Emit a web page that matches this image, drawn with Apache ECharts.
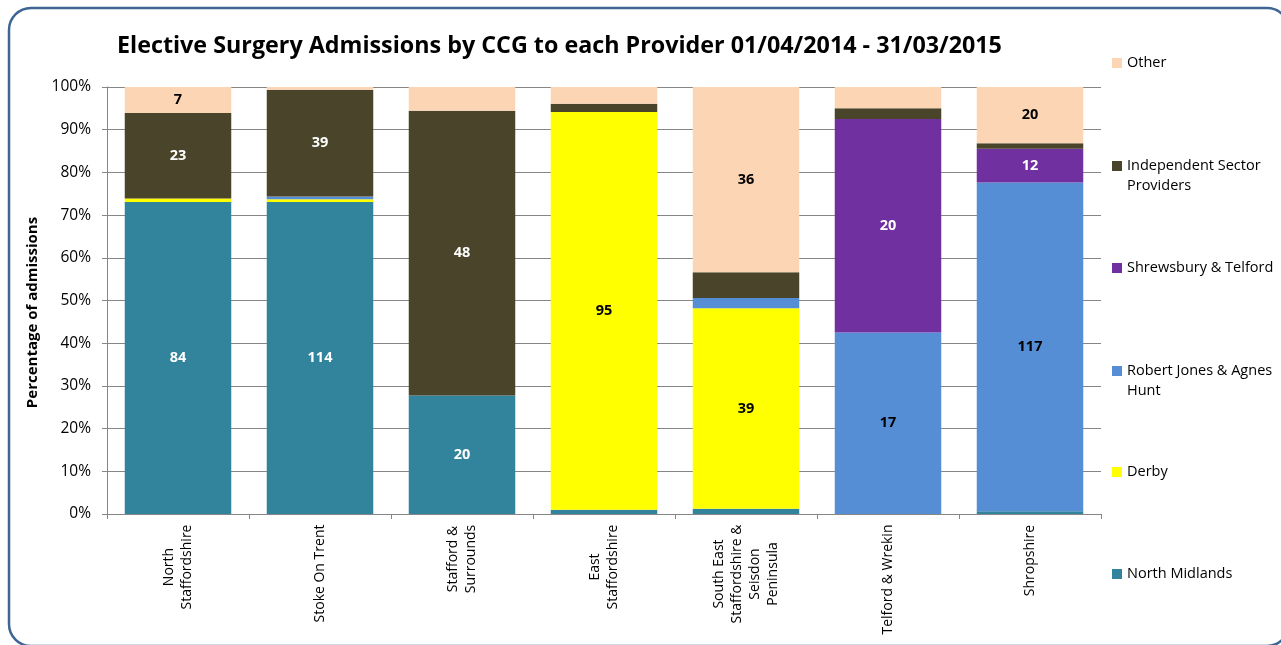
<!DOCTYPE html>
<html>
<head>
<meta charset="utf-8">
<script src="https://cdn.jsdelivr.net/npm/echarts@6/dist/echarts.min.js"></script>
<style>
  html, body { margin: 0; padding: 0; background: #fff; }
  #chart { width: 1281px; height: 645px; }
</style>
</head>
<body>
<div id="chart"></div>
<script>
// CCG categories (x axis)
var categories = ['North\nStaffordshire', 'Stoke On Trent', 'Stafford &\nSurrounds', 'East\nStaffordshire',
	'South East\nStaffordshire &\nSeisdon\nPeninsula', 'Telford & Wrekin', 'Shropshire'];

var northMidlands = [84, 114, 20, 1, 1, 0, 1];
var derby = [1, 1, 0, 95, 39, 0, 0];
var robertJones = [0, 1, 0, 0, 2, 17, 117];
var shrewsbury = [0, 0, 0, 0, 0, 20, 12];
var independent = [23, 39, 48, 2, 5, 1, 2];
var other = [7, 1, 4, 4, 36, 2, 20];

var yTicks = [0, 10, 20, 30, 40, 50, 60, 70, 80, 90, 100];

var font = '"Open Sans", "DejaVu Sans", sans-serif';

// series settings bottom -> top
var providers = [
	{ name: 'North Midlands', data: northMidlands, color: '#31849B', label: '#fff' },
	{ name: 'Derby', data: derby, color: '#FFFF00', label: '#000' },
	{ name: 'Robert Jones & Agnes Hunt', data: robertJones, color: '#558ED5', label: '#000' },
	{ name: 'Shrewsbury & Telford', data: shrewsbury, color: '#7030A0', label: '#fff' },
	{ name: 'Independent Sector Providers', data: independent, color: '#4A452A', label: '#fff' },
	{ name: 'Other', data: other, color: '#FCD5B5', label: '#000' }
];

// totals per CCG, to turn counts into shares
var totals = categories.map(function(c, i) {
	var t = 0;
	providers.forEach(function(p) { t += p.data[i]; });
	return t;
});

var series = providers.map(function(p) {
	return {
		name: p.name,
		type: 'bar',
		stack: 'all',
		barCategoryGap: '25%',
		itemStyle: { color: p.color },
		label: {
			show: true,
			position: 'inside',
			color: p.label,
			fontFamily: font,
			fontWeight: 'bold',
			fontSize: 14.5,
			formatter: function(params) {
				var n = p.data[params.dataIndex];
				return n >= 7 ? String(n) : ''; // small segments are not labelled
			}
		},
		data: p.data.map(function(v, i) { return v / totals[i] * 100; })
	};
});

// x labels: lines centred within each rotated block
var measure = document.createElement('canvas').getContext('2d');
measure.font = '14px "Open Sans"';
var rich = {};
categories.forEach(function(c, i) {
	var w = Math.max.apply(null, c.split('\n').map(function(s) { return measure.measureText(s).width; }));
	rich['c' + i] = { width: Math.ceil(w) + 1, align: 'center', fontFamily: font, fontSize: 14, lineHeight: 18, color: '#000' };
});

// legend entries, top to bottom as in the reference
// (two-line names get a blank first line so the marker sits on the first text line)
var legendItems = [
	{ name: 'Other', text: 'Other', top: 53 },
	{ name: 'Independent Sector Providers', text: '\nIndependent Sector\nProviders', top: 136 },
	{ name: 'Shrewsbury & Telford', text: 'Shrewsbury & Telford', top: 258 },
	{ name: 'Robert Jones & Agnes Hunt', text: '\nRobert Jones & Agnes\nHunt', top: 341 },
	{ name: 'Derby', text: 'Derby', top: 462 },
	{ name: 'North Midlands', text: 'North Midlands', top: 564 }
];
var legends = legendItems.map(function(it) {
	return {
		orient: 'vertical',
		left: 1112,
		top: it.top,
		padding: 0,
		itemWidth: 10,
		itemHeight: 10,
		icon: 'rect',
		selectedMode: false,
		data: [it.name],
		formatter: function() { return it.text; },
		textStyle: { fontFamily: font, fontSize: 14.5, color: '#000', lineHeight: 20 }
	};
});

var myChart = echarts.init(document.getElementById('chart'));
var option = {
	animation: false,
	backgroundColor: '#fff',
	title: {
		text: 'Elective Surgery Admissions by CCG to each Provider 01/04/2014 - 31/03/2015',
		left: 112,
		top: 30,
		textStyle: { fontFamily: font, fontWeight: 'bold', fontSize: 23.3, color: '#000' }
	},
	legend: legends,
	grid: { left: 107, right: 180, top: 87, bottom: 131 },
	xAxis: {
		type: 'category',
		data: categories,
		axisLine: { lineStyle: { color: '#868686' } },
		axisTick: { show: true, length: 5, lineStyle: { color: '#868686' } },
		axisLabel: {
			rotate: 90,
			margin: 10,
			interval: 0,
			rich: rich,
			formatter: function(v, i) {
				return v.split('\n').map(function(s) { return '{c' + i + '|' + s + '}'; }).join('\n');
			}
		}
	},
	yAxis: {
		type: 'value',
		min: yTicks[0],
		max: yTicks[yTicks.length - 1],
		interval: 10,
		name: 'Percentage of admissions',
		nameLocation: 'middle',
		nameRotate: 90,
		nameGap: 63,
		nameTextStyle: { fontFamily: font, fontWeight: 'bold', fontSize: 15, color: '#000', padding: [0, 24, 0, 0] },
		axisLine: { show: true, lineStyle: { color: '#868686' } },
		axisTick: { show: true, length: 5, lineStyle: { color: '#868686' } },
		splitLine: { lineStyle: { color: '#868686' } },
		axisLabel: { margin: 16, fontFamily: font, fontSize: 15.5, color: '#000', formatter: '{value}%' }
	},
	graphic: [{
		type: 'rect',
		shape: { x: 9, y: 8, width: 1280, height: 638, r: 22 },
		style: { fill: 'none', stroke: '#3E6594', lineWidth: 2.5 },
		silent: true
	}],
	series: series
};
myChart.setOption(option);
</script>
</body>
</html>
